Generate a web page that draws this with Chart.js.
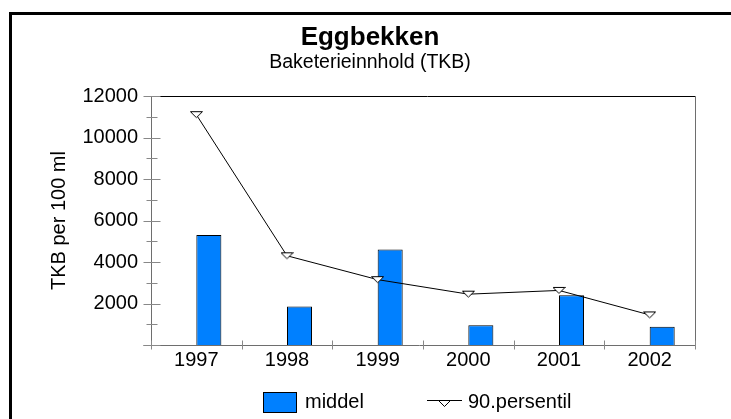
<!DOCTYPE html>
<html>
<head>
<meta charset="utf-8">
<script src="https://cdn.jsdelivr.net/npm/chart.js@4.4.0/dist/chart.umd.min.js"></script>
<style>
  html, body { margin: 0; padding: 0; background: #fff; }
</style>
</head>
<body>
<canvas id="chart" width="731" height="419"></canvas>
<script>
const years = ["1997", "1998", "1999", "2000", "2001", "2002"];
const middel = [5300, 1850, 4600, 950, 2400, 880];
const persentil90 = [11100, 4300, 3150, 2450, 2630, 1450];
const spacer = [null, null, null, null, null, null];
const yLabels = [2000, 4000, 6000, 8000, 10000, 12000];

const FONT = "'Liberation Sans', Arial, sans-serif";
const BLUE = "#0080ff";

Chart.defaults.font.family = FONT;
Chart.defaults.color = "#000";

// flat downward triangle used as point marker
function makeTriangle() {
  const c = document.createElement("canvas");
  c.width = 13;
  c.height = 13;
  const g = c.getContext("2d");
  g.beginPath();
  g.moveTo(0.5, 3.5);
  g.lineTo(12.5, 3.5);
  g.lineTo(6.5, 9.5);
  g.closePath();
  g.fillStyle = "#fff";
  g.fill();
  g.strokeStyle = "#000";
  g.lineWidth = 1;
  g.stroke();
  return c;
}
const triangle = makeTriangle();

const framePlugin = {
  id: "frame",
  beforeDraw(chart) {
    const ctx = chart.ctx;
    ctx.save();
    ctx.fillStyle = "#fff";
    ctx.fillRect(0, 0, chart.width, chart.height);
    ctx.fillStyle = "#000";
    ctx.fillRect(9, 12, 3, chart.height);
    ctx.fillRect(9, 12, chart.width, 3);
    ctx.restore();
  },
  afterDatasetsDraw(chart) {
    const { ctx, chartArea: a, scales } = chart;
    const L = Math.round(a.left) + 0.5;
    const R = Math.round(a.right) + 0.5;
    const T = Math.round(a.top) + 0.5;
    const B = Math.round(a.bottom) + 0.5;
    ctx.save();
    ctx.lineWidth = 1;
    // top border
    ctx.strokeStyle = "#000";
    ctx.beginPath();
    ctx.moveTo(L + 8, T);
    ctx.lineTo(R, T);
    ctx.stroke();
    // axes + right border
    ctx.strokeStyle = "#6e6e6e";
    ctx.beginPath();
    ctx.moveTo(L, T);
    ctx.lineTo(L, B + 3);
    ctx.moveTo(L - 8, B);
    ctx.lineTo(R, B);
    ctx.moveTo(R, T);
    ctx.lineTo(R, B + 3);
    ctx.stroke();
    // y tick marks
    ctx.strokeStyle = "#888";
    scales.y.ticks.forEach((t) => {
      const y = Math.round(scales.y.getPixelForValue(t.value)) + 0.5;
      const major = t.value % 2000 === 0;
      ctx.beginPath();
      ctx.moveTo(L - (major ? 8 : 5), y);
      ctx.lineTo(L + (major ? 9 : 6), y);
      ctx.stroke();
    });
    // x tick marks at category boundaries
    const x = scales.x;
    const w = (x.right - x.left) / years.length;
    for (let i = 0; i <= years.length; i++) {
      const px = Math.round(x.getPixelForValue(0) - w / 2 + i * w) + 0.5;
      ctx.beginPath();
      ctx.moveTo(px, B - 5);
      ctx.lineTo(px, B + 4);
      ctx.stroke();
    }
    ctx.restore();
  },
};

const legendPlugin = {
  id: "bottomLegend",
  afterDraw(chart) {
    const ctx = chart.ctx;
    const [lineSet, , barSet] = chart.data.datasets;
    const cy = 402;
    ctx.save();
    ctx.font = "20px " + FONT;
    ctx.textBaseline = "middle";
    // bar entry
    ctx.fillStyle = barSet.backgroundColor;
    ctx.fillRect(263, 392, 33, 20);
    ctx.strokeStyle = "#000";
    ctx.lineWidth = 1;
    ctx.strokeRect(263.5, 392.5, 33, 20);
    ctx.fillStyle = "#000";
    ctx.fillText(barSet.label, 305, cy);
    // line entry
    ctx.beginPath();
    ctx.moveTo(427, 400.5);
    ctx.lineTo(462, 400.5);
    ctx.stroke();
    ctx.drawImage(triangle, 438, 397);
    ctx.fillText(lineSet.label, 468, cy);
    ctx.restore();
  },
};

new Chart(document.getElementById("chart"), {
  type: "bar",
  data: {
    labels: years,
    datasets: [
      {
        type: "line",
        label: "90.persentil",
        data: persentil90,
        borderColor: "#000",
        borderWidth: 1,
        tension: 0,
        pointStyle: triangle,
        pointRadius: 6,
      },
      {
        label: "",
        data: spacer,
        backgroundColor: BLUE,
      },
      {
        label: "middel",
        data: middel,
        backgroundColor: BLUE,
        borderColor: "#000",
        borderWidth: 1,
      },
    ],
  },
  options: {
    responsive: false,
    animation: false,
    layout: { padding: { left: 45, right: 36, top: 0, bottom: 48 } },
    datasets: {
      bar: { barPercentage: 1, categoryPercentage: 0.552 },
    },
    plugins: {
      legend: { display: false },
      tooltip: { enabled: false },
      title: {
        display: true,
        text: "Eggbekken",
        color: "#000",
        font: { size: 26, weight: "bold", lineHeight: 1.1 },
        padding: { top: 24, bottom: 0 },
      },
      subtitle: {
        display: true,
        text: "Baketerieinnhold (TKB)",
        color: "#000",
        font: { size: 19.5, lineHeight: 1 },
        padding: { top: 0, bottom: 23.9 },
      },
    },
    scales: {
      x: {
        afterFit: (s) => { s.height = 26; },
        border: { display: false },
        grid: { display: false, drawTicks: false },
        ticks: { padding: 3, color: "#000", font: { size: 20 }, autoSkip: false, maxRotation: 0 },
      },
      y: {
        min: 0,
        max: 12000,
        afterFit: (s) => { s.width = 106; },
        border: { display: false },
        grid: { display: false, drawTicks: false },
        ticks: {
          stepSize: 1000,
          autoSkip: false,
          padding: 13,
          color: "#000",
          font: { size: 20 },
          callback: (v) => (yLabels.includes(v) ? String(v) : ""),
        },
        title: {
          display: true,
          text: "TKB per 100 ml",
          color: "#000",
          font: { size: 20 },
          padding: { top: 2, bottom: 0 },
        },
      },
    },
  },
  plugins: [framePlugin, legendPlugin],
});
</script>
</body>
</html>
